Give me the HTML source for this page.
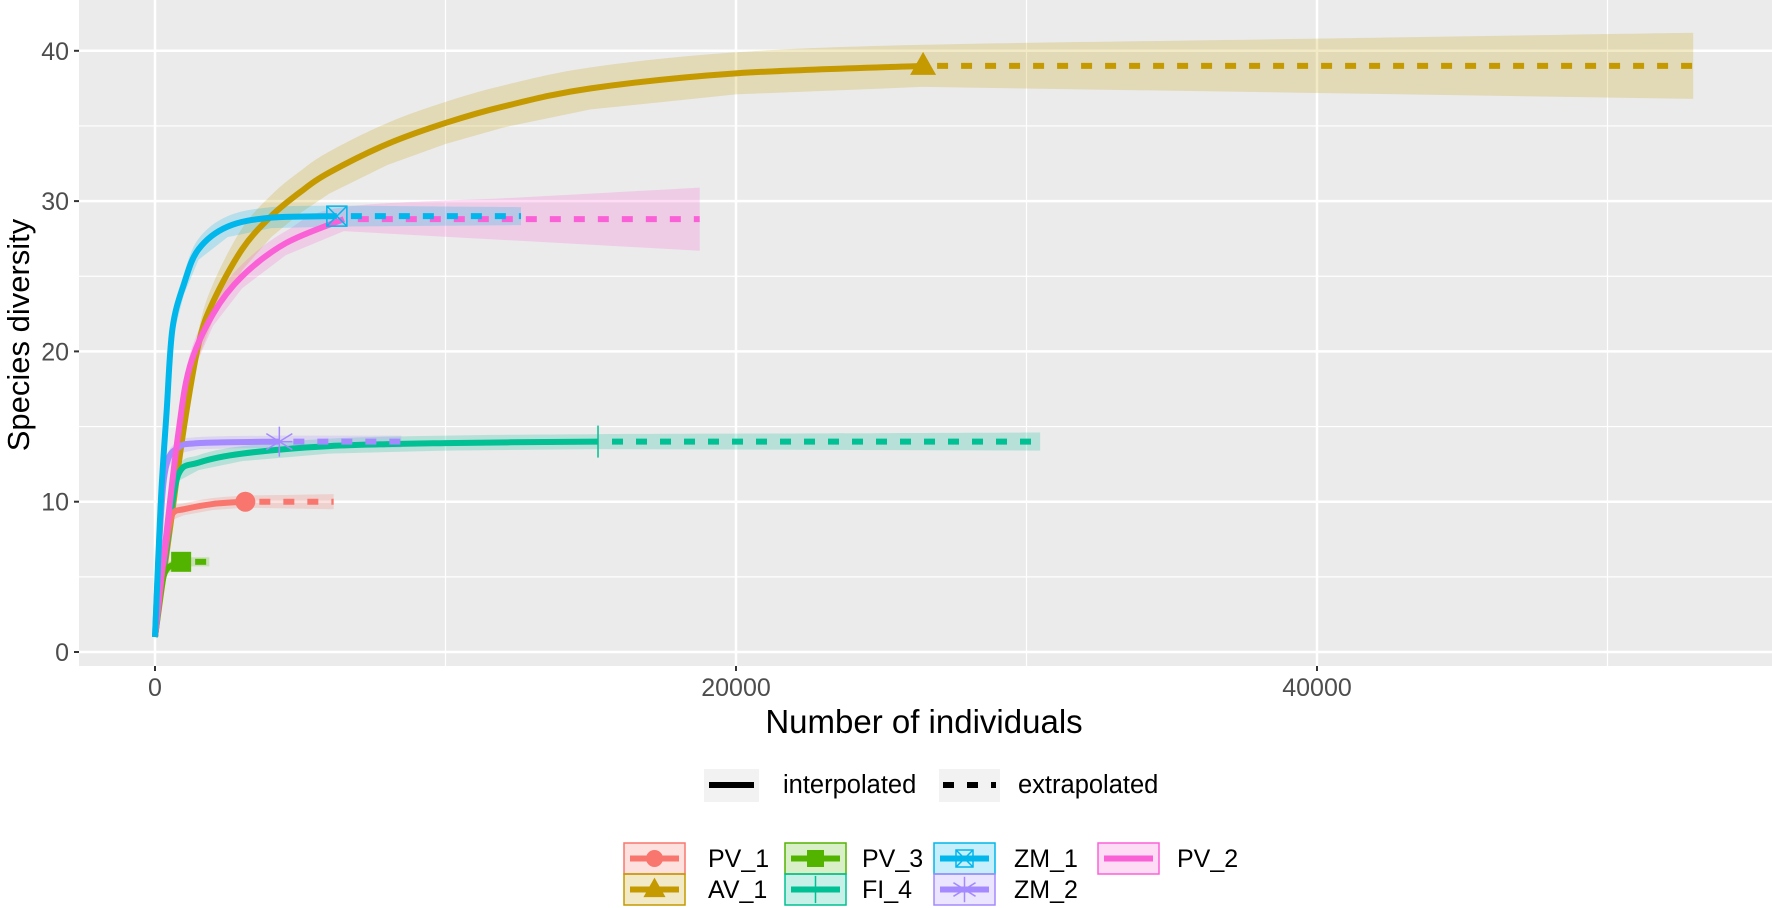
<!DOCTYPE html>
<html><head><meta charset="utf-8"><style>
html,body{margin:0;padding:0;background:#fff;}
svg{display:block;font-family:"Liberation Sans",Arial,sans-serif;}
</style></head><body>
<svg id="chart" width="1772" height="908" viewBox="0 0 1772 908">
<rect x="79" y="0" width="1693" height="666" fill="#EBEBEB"/>
<g id="grid"></g>
<g id="bands"></g>
<g id="lines"></g>
<g id="axes"></g>
<text x="924" y="733" font-size="33" text-anchor="middle" fill="#000">Number of individuals</text>
<text transform="translate(29,335) rotate(-90)" font-size="31" text-anchor="middle" fill="#000">Species diversity</text>
<g>
<rect x="704" y="769" width="55" height="33" fill="#F2F2F2"/>
<line x1="709" y1="785" x2="754" y2="785" stroke="#000" stroke-width="6"/>
<text x="783" y="793" font-size="25.5" fill="#000">interpolated</text>
<rect x="939" y="769" width="61" height="33" fill="#F2F2F2"/>
<line x1="943" y1="785" x2="996" y2="785" stroke="#000" stroke-width="6" stroke-dasharray="11 13"/>
<text x="1018" y="793" font-size="25.5" fill="#000">extrapolated</text>
</g>
<g id="legend2"></g>
</svg>
<script>
const xTicks=[0,20000,40000];
const xMinor=[10000,30000,50000];
const yTicks=[0,10,20,30,40];
const yMinor=[5,15,25,35];
const names=["PV_1","AV_1","PV_3","FI_4","ZM_1","ZM_2","PV_2"];
const colors=["#F8766D","#C49A00","#53B400","#00C094","#00B6EB","#A58AFF","#FB61D7"];
// interpolated curves (x individuals, y species)
const pv1X=[0,300,600,1000,2000,3110], pv1Y=[1,6,9.2,9.5,9.85,10];
const av1X=[0,500,1000,1500,2000,3000,4000,5000,6000,8000,10000,12000,15000,20000,26440], av1Y=[1,8,15,20.5,23.3,26.8,29,30.6,31.9,33.8,35.2,36.3,37.5,38.5,39];
const pv3X=[0,200,400,900], pv3Y=[1,4,5.5,6];
const fi4X=[0,400,800,1500,3000,6000,10000,15250], fi4Y=[1,7,11.8,12.6,13.2,13.7,13.9,14];
const zm1X=[0,200,400,600,1000,1500,2500,4000,6260], zm1Y=[1,10,16,21.5,24.5,26.8,28.3,28.9,29];
const zm2X=[0,200,400,800,1500,4280], zm2Y=[1,9,12.5,13.6,13.9,14];
const pv2X=[0,400,800,1200,2000,3000,4500,6500], pv2Y=[1,8,14.5,19,22.5,25,27.2,28.8];
const extEnd=[6150,52950,1870,30470,12600,8480,18750];
const ciInterp=[0.4,1.4,0.3,0.5,0.7,0.4,0.8];
const ciEnd=[0.5,2.2,0.3,0.6,0.6,0.4,2.1];
const seriesX=[pv1X,av1X,pv3X,fi4X,zm1X,zm2X,pv2X];
const seriesY=[pv1Y,av1Y,pv3Y,fi4Y,zm1Y,zm2Y,pv2Y];
const shapes=["circle","triangle","square","vline","boxx","star","none"];

const X0=155, XS=0.029050, Y0=652, YS=15.03;
const sx=v=>X0+v*XS, sy=v=>Y0-v*YS;
const NS="http://www.w3.org/2000/svg";
function mk(tag,attrs,parent){const e=document.createElementNS(NS,tag);for(const k in attrs)e.setAttribute(k,attrs[k]);parent.appendChild(e);return e;}

const grid=document.getElementById('grid');
yMinor.forEach(v=>{const l=mk('line',{x1:79,x2:1772,y1:sy(v),y2:sy(v),stroke:'#fff','stroke-width':1.2},grid);

});
xMinor.forEach(v=>{const l=mk('line',{x1:sx(v),x2:sx(v),y1:0,y2:666,stroke:'#fff','stroke-width':1.2},grid);

});
yTicks.forEach(v=>{const l=mk('line',{x1:79,x2:1772,y1:sy(v),y2:sy(v),stroke:'#fff','stroke-width':2.5},grid);

});
xTicks.forEach(v=>{const l=mk('line',{x1:sx(v),x2:sx(v),y1:0,y2:666,stroke:'#fff','stroke-width':2.5},grid);

});

const axes=document.getElementById('axes');
yTicks.forEach(v=>{mk('line',{x1:74,x2:79,y1:sy(v),y2:sy(v),stroke:'#333','stroke-width':2},axes);
const t=mk('text',{x:69,y:sy(v)+9,'font-size':25,'text-anchor':'end',fill:'#4D4D4D'},axes);t.textContent=v;

});
xTicks.forEach(v=>{mk('line',{x1:sx(v),x2:sx(v),y1:666,y2:671,stroke:'#333','stroke-width':2},axes);
const t=mk('text',{x:sx(v),y:696,'font-size':25,'text-anchor':'middle',fill:'#4D4D4D'},axes);t.textContent=v;

});

function smooth(pts){
  let d=`M${pts[0][0]},${pts[0][1]}`;
  for(let i=0;i<pts.length-1;i++){
    const p0=pts[Math.max(0,i-1)],p1=pts[i],p2=pts[i+1],p3=pts[Math.min(pts.length-1,i+2)];
    let c1x=p1[0]+(p2[0]-p0[0])/6,c1y=p1[1]+(p2[1]-p0[1])/6;
    let c2x=p2[0]-(p3[0]-p1[0])/6,c2y=p2[1]-(p3[1]-p1[1])/6;
    c1y=Math.min(Math.max(c1y,Math.min(p1[1],p2[1])),Math.max(p1[1],p2[1]));
    c2y=Math.min(Math.max(c2y,Math.min(p1[1],p2[1])),Math.max(p1[1],p2[1]));
    d+=` C${c1x},${c1y} ${c2x},${c2y} ${p2[0]},${p2[1]}`;
  }
  return d;
}
const bands=document.getElementById('bands'), lines=document.getElementById('lines');
const order=[1,3,5,0,2,6,4];
order.forEach(i=>{
  const xs=seriesX[i], ys=seriesY[i], c=colors[i];
  const lastX=xs[xs.length-1], lastY=ys[ys.length-1];
  const up=[],lo=[];
  xs.forEach((x,j)=>{const f=j/(xs.length-1);const h=ciInterp[i]*Math.min(1,f*3);up.push([sx(x),sy(ys[j]+h)]);lo.push([sx(x),sy(ys[j]-h)]);});
  up.push([sx((lastX+extEnd[i])/2),sy(lastY+(ciInterp[i]+ciEnd[i])/2)]);up.push([sx(extEnd[i]),sy(lastY+ciEnd[i])]);
  lo.push([sx((lastX+extEnd[i])/2),sy(lastY-(ciInterp[i]+ciEnd[i])/2)]);lo.push([sx(extEnd[i]),sy(lastY-ciEnd[i])]);
  let d=smooth(up); const lr=lo.slice().reverse(); d+=' L'+lr.map(p=>p.join(',')).join(' L')+' Z';
  const b=mk('path',{d:d,fill:c,'fill-opacity':0.22,stroke:'none'},bands);
  
  
  const pts=xs.map((x,j)=>[sx(x),sy(ys[j])]);
  const l=mk('path',{d:smooth(pts),fill:'none',stroke:c,'stroke-width':6,'stroke-linejoin':'round'},lines);
  
  
  const e=mk('line',{x1:sx(lastX)+14,y1:sy(lastY),x2:sx(extEnd[i]),y2:sy(lastY),stroke:c,'stroke-width':6,'stroke-dasharray':'11 13'},lines);
  
  
});
function marker(shape,cx,cy,c,parent,s){
  s=s||1;
  if(shape==='circle')return mk('circle',{cx:cx,cy:cy,r:10*s,fill:c},parent);
  if(shape==='triangle')return mk('polygon',{points:`${cx},${cy-14*s} ${cx-13*s},${cy+9*s} ${cx+13*s},${cy+9*s}`,fill:c},parent);
  if(shape==='square')return mk('rect',{x:cx-10*s,y:cy-10*s,width:20*s,height:20*s,fill:c},parent);
  if(shape==='vline')return mk('line',{x1:cx,x2:cx,y1:cy-16*s,y2:cy+16*s,stroke:c,'stroke-width':1.5},parent);
  if(shape==='boxx'){const g=mk('g',{fill:'none',stroke:c,'stroke-width':1.5},parent);
    mk('rect',{x:cx-10*s,y:cy-10*s,width:20*s,height:20*s},g);
    mk('path',{d:`M${cx-10*s},${cy-10*s}L${cx+10*s},${cy+10*s}M${cx+10*s},${cy-10*s}L${cx-10*s},${cy+10*s}`},g);return g;}
  if(shape==='star'){const g=mk('g',{stroke:c,'stroke-width':1.5},parent);
    mk('path',{d:`M${cx},${cy-15*s}V${cy+15*s}M${cx-13*s},${cy-8*s}L${cx+13*s},${cy+8*s}M${cx+13*s},${cy-8*s}L${cx-13*s},${cy+8*s}M${cx-13*s},${cy}H${cx+13*s}`},g);return g;}
  return null;
}
order.forEach(i=>{
  const xs=seriesX[i], ys=seriesY[i];
  const m=marker(shapes[i],sx(xs[xs.length-1]),sy(ys[ys.length-1]),colors[i],lines);
  if(m){
  }
});
const lg=document.getElementById('legend2');
const legPos=[[624,843],[624,874],[785,843],[785,874],[934,843],[934,874],[1098,843]];
const legText=[708,708,862,862,1014,1014,1177];
names.forEach((n,i)=>{
  const [x,y]=legPos[i];const c=colors[i];
  const g=mk('g',{},lg);
  
  
  mk('rect',{x:x,y:y,width:61,height:31,fill:c,'fill-opacity':0.22,stroke:c,'stroke-width':1.5},g);
  mk('line',{x1:x+6,x2:x+55,y1:y+15.5,y2:y+15.5,stroke:c,'stroke-width':6},g);
  marker(shapes[i],x+30.5,y+15.5,c,g,0.85);
  const t=mk('text',{x:legText[i],y:y+24,'font-size':25,fill:'#000'},g);t.textContent=n;
});
</script>
</body></html>
